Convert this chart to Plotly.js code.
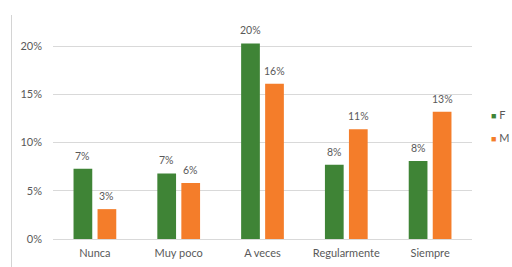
<!DOCTYPE html>
<html>
<head>
<meta charset="utf-8">
<script src="https://cdn.plot.ly/plotly-3.0.1.min.js"></script>
<style>
html,body{margin:0;padding:0;background:#fff;}
#wrap{position:relative;width:512px;height:267px;}
#chart{width:512px;height:267px;}
#frame{position:absolute;left:11px;top:15px;width:1px;height:252px;background:#D4D4D4;z-index:5;}
</style>
</head>
<body>
<div id="wrap"><div id="chart"></div><div id="frame"></div></div>
<script>
const categories = ["Nunca", "Muy poco", "A veces", "Regularmente", "Siempre"];
const seriesNames = ["F", "M"];
const valuesF = [0.073, 0.068, 0.203, 0.077, 0.081];
const valuesM = [0.031, 0.058, 0.161, 0.114, 0.132];
const colors = ["#3F8436", "#F47D2A"];
const yTicks = [0, 0.05, 0.10, 0.15, 0.20];

const FONT = "Lato, 'Open Sans', sans-serif";
const allSeries = [valuesF, valuesM];
const traces = allSeries.map((vals, i) => ({
  type: "bar",
  name: seriesNames[i],
  x: categories,
  y: vals,
  marker: {color: colors[i]},
  showlegend: false,
  hoverinfo: "skip"
}));

// value labels above each bar, positioned through the axis scales
const valueAnn = [];
allSeries.forEach((vals, i) => {
  vals.forEach((v, j) => {
    valueAnn.push({
      xref: "x", yref: "y",
      x: categories[j], y: v,
      xshift: (i === 0 ? -12 : 12), yshift: 13,
      xanchor: "center", yanchor: "middle",
      showarrow: false,
      text: Math.round(v * 100) + "%",
      font: {family: FONT, size: 10.5, color: "#595959"}
    });
  });
});

const legendAnn = seriesNames.map((n, i) => ({
  xref: "paper", yref: "paper",
  x: 1.04, y: 0.585 - i * 0.107,
  xanchor: "left", yanchor: "middle",
  showarrow: false,
  text: '<span style="color:' + colors[i] + ';font-size:9px">■</span> ' + n,
  font: {family: FONT, size: 11, color: "#595959"}
}));

const layout = {
  width: 512, height: 267,
  margin: {l: 53, r: 40, t: 27, b: 28},
  paper_bgcolor: "#fff", plot_bgcolor: "#fff",
  font: {family: FONT, size: 11, color: "#595959"},
  barmode: "group",
  bargap: 0.427,
  bargroupgap: 0.22,
  xaxis: {
    showgrid: false, showline: false, ticks: "",
    ticklabelstandoff: 6,
    tickfont: {size: 11, color: "#595959"},
    fixedrange: true
  },
  yaxis: {
    range: [0, 0.22],
    tickvals: yTicks,
    tickformat: ".0%",
    showgrid: true, gridcolor: "#D9D9D9", gridwidth: 1,
    zeroline: true, zerolinecolor: "#D9D9D9", zerolinewidth: 1,
    showline: false, ticks: "",
    ticklabelstandoff: 10,
    tickfont: {size: 11, color: "#595959"},
    fixedrange: true
  },
  annotations: valueAnn.concat(legendAnn)
};

Plotly.newPlot("chart", traces, layout, {displayModeBar: false, staticPlot: true});
</script>
</body>
</html>
